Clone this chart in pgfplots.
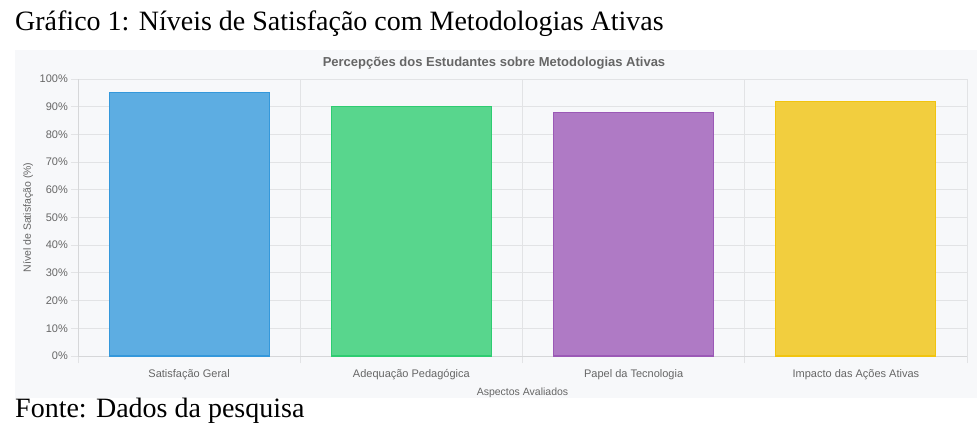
\documentclass[border=0pt]{standalone}
\usepackage{fontspec}
\setmainfont{Liberation Sans}
\newfontfamily\timesfont{Liberation Serif}
\usepackage{pgfplots}
\pgfplotsset{compat=1.18}
\definecolor{panelbg}{HTML}{F7F8FA}
\definecolor{gridc}{HTML}{E2E3E5}
\definecolor{axisc}{HTML}{D6D7D9}
\definecolor{labelc}{HTML}{666666}
\definecolor{blueF}{HTML}{5DADE2}
\definecolor{blueB}{HTML}{3498DB}
\definecolor{greenF}{HTML}{58D68D}
\definecolor{greenB}{HTML}{2ECC71}
\definecolor{purpleF}{HTML}{AF7AC5}
\definecolor{purpleB}{HTML}{9B59B6}
\definecolor{yellowF}{HTML}{F2CE3E}
\definecolor{yellowB}{HTML}{F1C40F}

\begin{document}
\begin{tikzpicture}
% page and chart panel (1pt = 1px of the reference, y measured from the bottom)
\path[fill=white,use as bounding box] (0pt,0pt) rectangle (980pt,431pt);
\fill[panelbg] (15pt,33pt) rectangle (977pt,381pt);

\node[anchor=base west,inner sep=0,font=\timesfont\fontsize{28}{30}\selectfont] at (15pt,400pt) {Gráfico 1: Níveis de Satisfação com Metodologias Ativas};
\node[anchor=base west,inner sep=0,font=\timesfont\fontsize{28}{30}\selectfont] at (15pt,13.3pt) {Fonte: Dados da pesquisa};
\node[anchor=base,inner sep=0,text=labelc,font=\bfseries\fontsize{13}{15}\selectfont] at (494pt,364.7pt) {Percepções dos Estudantes sobre Metodologias Ativas};

\begin{axis}[
    at={(78pt,75pt)}, anchor=south west,
    scale only axis,
    width=889pt, height=277pt,
    xmin=-0.5, xmax=3.5,
    ymin=0, ymax=100,
    axis x line=bottom, axis y line=left,
    axis line style={draw=axisc,-},
    xtick={0,1,2,3},
    xticklabels={Satisfação Geral,Adequação Pedagógica,Papel da Tecnologia,Impacto das Ações Ativas},
    minor xtick={-0.5,0.5,1.5,2.5,3.5},
    xminorgrids=true, xmajorgrids=false,
    ytick={0,10,...,100},
    ymajorgrids=true,
    grid style={draw=gridc,line width=0.8pt},
    minor grid style={draw=gridc,line width=0.8pt},
    tick align=outside,
    major tick length=7pt, minor tick length=7pt,
    major x tick style={draw=none},
    minor x tick style={draw=gridc,line width=0.8pt},
    major y tick style={draw=gridc,line width=0.8pt},
    /pgf/number format/assume math mode=true,
    yticklabel={\pgfmathprintnumber{\tick}\%},
    ticklabel style={text=labelc,font=\fontsize{11}{13}\selectfont},
    xticklabel style={anchor=base,inner sep=0,yshift=-14pt},
    yticklabel style={anchor=east,inner sep=0,xshift=-3pt},
    ylabel={Nível de Satisfação (\%)},
    ylabel style={at={(axis description cs:0,0.5)},anchor=center,yshift=50pt,text=labelc,font=\fontsize{10.5}{12}\selectfont},
    xlabel={Aspectos Avaliados},
    xlabel style={at={(axis description cs:0.5,0)},anchor=base,inner sep=0,yshift=-39pt,text=labelc,font=\fontsize{10.5}{12}\selectfont},
    ybar, bar width=0.72, bar shift=0pt,
    clip=false,
]
\addplot[fill=blueF,draw=blueB,line width=1.2pt] coordinates {(0,95)};
\addplot[fill=greenF,draw=greenB,line width=1.2pt] coordinates {(1,90)};
\addplot[fill=purpleF,draw=purpleB,line width=1.2pt] coordinates {(2,88)};
\addplot[fill=yellowF,draw=yellowB,line width=1.2pt] coordinates {(3,92)};
\end{axis}
\end{tikzpicture}
\end{document}
